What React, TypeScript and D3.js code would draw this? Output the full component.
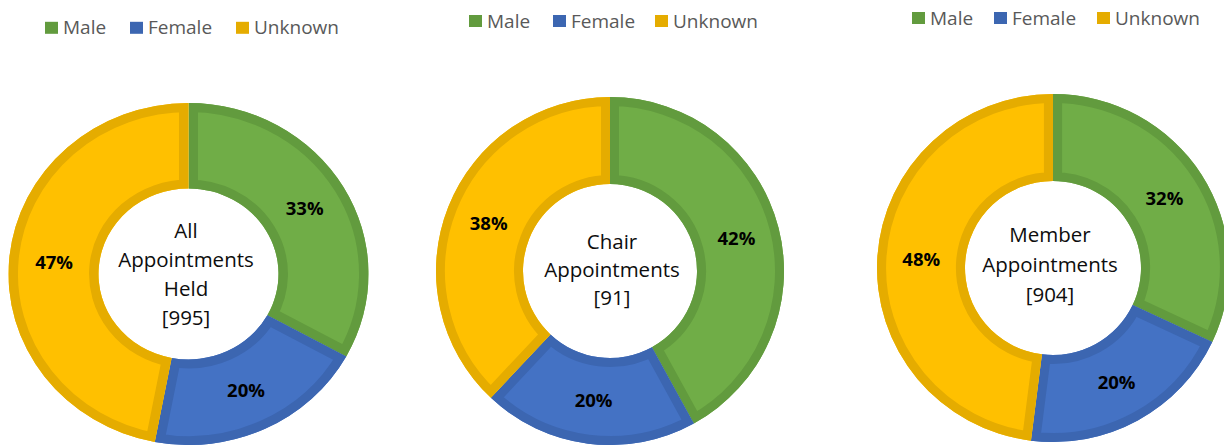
import React, { useEffect } from "react";
import * as d3 from "d3";

const categories = ["Male", "Female", "Unknown"];
const allValues = [33, 20, 47];
const chairValues = [42, 20, 38];
const memberValues = [32, 20, 48];
const allTitle = ["All", "Appointments", "Held", "[995]"];
const chairTitle = ["Chair", "Appointments", "[91]"];
const memberTitle = ["Member", "Appointments", "[904]"];

const fills = ["#70AD47", "#4472C4", "#FFC000"];
const borders = ["#629B3E", "#3C66B1", "#E5AC00"];

const charts = [
  { id: "a", values: allValues, title: allTitle, cx: 188.5, cy: 274, rx: 180, ry: 171, tx: 186, t0: 238, lh: 29, lx: 45, lb: 34.3, lo: [0, 85, 191] },
  { id: "c", values: chairValues, title: chairTitle, cx: 610, cy: 271, rx: 174, ry: 174, tx: 612, t0: 249, lh: 28, lx: 469, lb: 27.5, lo: [0, 84, 186] },
  { id: "m", values: memberValues, title: memberTitle, cx: 1053, cy: 268, rx: 176, ry: 174, tx: 1050, t0: 242, lh: 30, lx: 912, lb: 24.5, lo: [0, 82, 185] },
];

const FONT = "'Open Sans', sans-serif";

function Donut({ c }: { c: any }) {
  const pie = d3.pie<number>().sort(null).value((d) => d);
  const arcs = pie(c.values);
  const R = c.ry;
  const arc = d3.arc<d3.PieArcDatum<number>>().innerRadius(R * 0.5).outerRadius(R);
  const sx = c.rx / c.ry;
  return (
    <g>
      <g transform={`translate(${c.cx},${c.cy}) scale(${sx},1)`}>
        <defs>
          {arcs.map((a, i) => (
            <clipPath id={`clip-${c.id}-${i}`} key={i}>
              <path d={arc(a) || ""} />
            </clipPath>
          ))}
        </defs>
        {arcs.map((a, i) => (
          <g key={i}>
            <path d={arc(a) || ""} fill={fills[i]} />
            <path d={arc(a) || ""} fill="none" stroke={borders[i]} strokeWidth={18} strokeLinejoin="miter" clipPath={`url(#clip-${c.id}-${i})`} />
          </g>
        ))}
      </g>
      {arcs.map((a, i) => {
        const [x, y] = arc.centroid(a);
        return (
          <text key={i} x={c.cx + x * sx} y={c.cy + y} dy="0.36em" textAnchor="middle" fontFamily={FONT} fontWeight="bold" fontSize={18.5} fill="#000">
            {`${a.data}%`}
          </text>
        );
      })}
      {c.title.map((t: string, i: number) => (
        <text key={i} x={c.tx} y={c.t0 + i * c.lh} textAnchor="middle" fontFamily={FONT} fontSize={20.5} fill="#0D0D0D">
          {t}
        </text>
      ))}
      {categories.map((cat, i) => (
        <g key={cat}>
          <rect x={c.lx + c.lo[i]} y={c.lb - 12.5} width={13} height={12} fill={borders[i]} />
          <text x={c.lx + c.lo[i] + 18} y={c.lb} fontFamily={FONT} fontSize={19} fill="#595959">
            {cat}
          </text>
        </g>
      ))}
    </g>
  );
}

export default function App() {
  useEffect(() => {
    document.body.style.margin = "0";
  }, []);
  return (
    <svg width={1224} height={445} style={{ display: "block", background: "#fff" }}>
      {charts.map((c) => (
        <Donut key={c.id} c={c} />
      ))}
    </svg>
  );
}
